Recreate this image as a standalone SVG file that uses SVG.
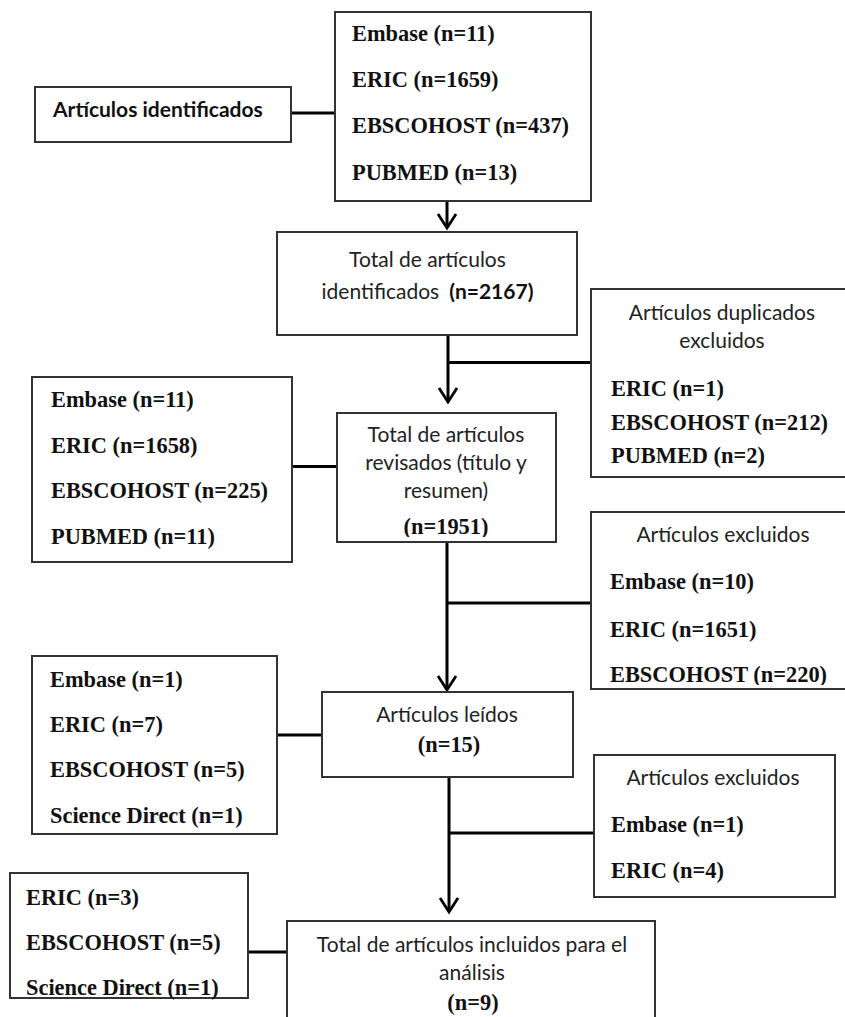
<svg xmlns="http://www.w3.org/2000/svg" width="845" height="1017" viewBox="0 0 845 1017">
<style>
.box{fill:#fff;stroke:#333;stroke-width:2}
.con{fill:none;stroke:#000;stroke-width:3}
.tb{font-family:"Liberation Serif","Times New Roman",serif;font-weight:bold;font-size:22.4px;fill:#111}
.sa{font-family:Lato,"Open Sans",sans-serif;font-size:21px;fill:#222}
.sb{font-family:Lato,"Open Sans",sans-serif;font-size:21px;font-weight:bold;fill:#111}
.c{text-anchor:middle}
</style>
<defs>
<marker id="arr" markerUnits="userSpaceOnUse" markerWidth="24" markerHeight="24" viewBox="-18 -12 24 24" refX="0" refY="0" orient="auto" overflow="visible">
<path d="M-14,-9 L0,0 L-14,9" fill="none" stroke="#000" stroke-width="2.8"/>
</marker>
<clipPath id="clipF"><rect x="337" y="413" width="219" height="124"/></clipPath>
<clipPath id="clipG"><rect x="591" y="512" width="260" height="173"/></clipPath>
</defs>
<rect width="845" height="1017" fill="#fff"/>

<g id="connectors">
<line class="con" x1="291" y1="113" x2="335" y2="113"/>
<line class="con" x1="447" y1="201" x2="447" y2="228" marker-end="url(#arr)"/>
<line class="con" x1="448" y1="335" x2="448" y2="402" marker-end="url(#arr)"/>
<line class="con" x1="448" y1="362.5" x2="591" y2="362.5"/>
<line class="con" x1="292" y1="466.5" x2="337" y2="466.5"/>
<line class="con" x1="447" y1="542" x2="447" y2="690" marker-end="url(#arr)"/>
<line class="con" x1="447" y1="603" x2="591" y2="603"/>
<line class="con" x1="277" y1="735" x2="322" y2="735"/>
<line class="con" x1="449" y1="777" x2="449" y2="912" marker-end="url(#arr)"/>
<line class="con" x1="449" y1="833" x2="594" y2="833"/>
<line class="con" x1="248" y1="952" x2="287" y2="952"/>
</g>

<g id="n-identificados">
<rect class="box" x="35" y="87" width="256" height="55"/>
<text class="sb" x="53" y="117">Artículos identificados</text>
</g>

<g id="n-bases">
<rect class="box" x="335" y="12" width="256" height="189"/>
<text class="tb" x="352" y="41">Embase (n=11)</text>
<text class="tb" x="352" y="87">ERIC (n=1659)</text>
<text class="tb" x="352" y="133">EBSCOHOST (n=437)</text>
<text class="tb" x="352" y="180">PUBMED (n=13)</text>
</g>

<g id="n-total">
<rect class="box" x="277" y="232" width="300" height="103"/>
<text class="sa c" x="427.5" y="267">Total de artículos</text>
<text class="sa c" x="427.5" y="299">identificados<tspan dx="10" font-weight="bold" fill="#111">(n=2167)</tspan></text>
</g>

<g id="n-duplicados">
<rect class="box" x="591" y="289" width="262" height="188"/>
<text class="sa c" x="722" y="320">Artículos duplicados</text>
<text class="sa c" x="722" y="348">excluidos</text>
<text class="tb" x="611" y="396">ERIC (n=1)</text>
<text class="tb" x="611" y="430">EBSCOHOST (n=212)</text>
<text class="tb" x="611" y="463">PUBMED (n=2)</text>
</g>

<g id="n-izq1">
<rect class="box" x="32" y="377" width="260" height="185"/>
<text class="tb" x="51" y="407">Embase (n=11)</text>
<text class="tb" x="51" y="453">ERIC (n=1658)</text>
<text class="tb" x="51" y="498">EBSCOHOST (n=225)</text>
<text class="tb" x="51" y="544">PUBMED (n=11)</text>
</g>

<g id="n-revisados">
<rect class="box" x="337" y="413" width="219" height="129"/>
<text class="sa c" x="446" y="442">Total de artículos</text>
<text class="sa c" x="446" y="470">revisados (título y</text>
<text class="sa c" x="446" y="498">resumen)</text>
<text class="tb c" x="446" y="534" clip-path="url(#clipF)">(n=1951)</text>
</g>

<g id="n-excluidos1">
<rect class="box" x="591" y="512" width="262" height="177"/>
<text class="sa c" x="723" y="542">Artículos excluidos</text>
<text class="tb" x="610" y="589">Embase (n=10)</text>
<text class="tb" x="610" y="637">ERIC (n=1651)</text>
<text class="tb" x="610" y="682" clip-path="url(#clipG)">EBSCOHOST (n=220)</text>
</g>

<g id="n-izq2">
<rect class="box" x="32" y="656" width="245" height="178"/>
<text class="tb" x="50" y="687">Embase (n=1)</text>
<text class="tb" x="50" y="732">ERIC (n=7)</text>
<text class="tb" x="50" y="777">EBSCOHOST (n=5)</text>
<text class="tb" x="50" y="823">Science Direct (n=1)</text>
</g>

<g id="n-leidos">
<rect class="box" x="322" y="692" width="251" height="85"/>
<text class="sa c" x="447" y="722">Artículos leídos</text>
<text class="tb c" x="449" y="752">(n=15)</text>
</g>

<g id="n-excluidos2">
<rect class="box" x="594" y="755" width="241" height="142"/>
<text class="sa c" x="713" y="785">Artículos excluidos</text>
<text class="tb" x="611" y="832">Embase (n=1)</text>
<text class="tb" x="611" y="878">ERIC (n=4)</text>
</g>

<g id="n-izq3">
<rect class="box" x="10" y="873" width="238" height="125"/>
<text class="tb" x="26" y="905">ERIC (n=3)</text>
<text class="tb" x="26" y="950">EBSCOHOST (n=5)</text>
<text class="tb" x="26" y="995">Science Direct (n=1)</text>
</g>

<g id="n-final">
<rect class="box" x="287" y="921" width="368" height="110"/>
<text class="sa c" x="472" y="952">Total de artículos incluidos para el</text>
<text class="sa c" x="472" y="980">análisis</text>
<text class="tb c" x="473" y="1010">(n=9)</text>
</g>
</svg>
